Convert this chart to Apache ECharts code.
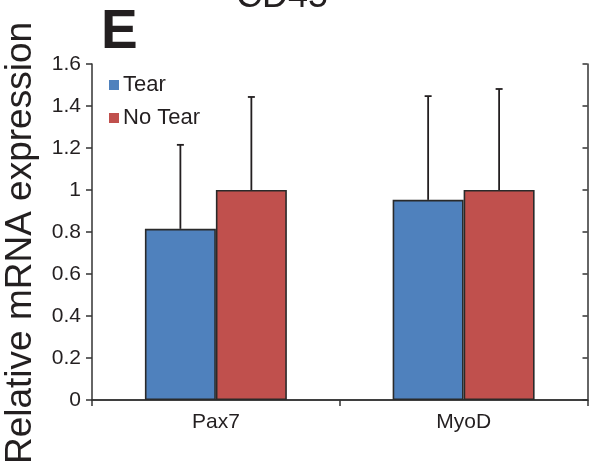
<!DOCTYPE html>
<html>
<head>
<meta charset="utf-8">
<script src="https://cdn.jsdelivr.net/npm/echarts@6/dist/echarts.min.js"></script>
<style>
html,body{margin:0;padding:0;background:#fff;}
#chart{width:589px;height:475px;}
</style>
</head>
<body>
<div id="chart"></div>
<script>
var categories = ['Pax7', 'MyoD'];
var tearMean = [0.815, 0.953];
var tearSD = [0.40, 0.494];
var noTearMean = [1.0, 1.0];
var noTearSD = [0.443, 0.481];
var yTicks = [0, 0.2, 0.4, 0.6, 0.8, 1, 1.2, 1.4, 1.6];

var FONT = '"Liberation Sans", Arial, Helvetica, sans-serif';
var INK = '#231f20';
var BLUE = '#4F81BD';
var RED = '#C0504D';
var CAT_GAP = 0.427;

var chart = echarts.init(document.getElementById('chart'), null, {renderer: 'canvas'});

function errData(mean, sd) {
  return mean.map(function (m, i) { return [i, m, m + sd[i]]; });
}

function errRender(side) {
  return function (params, api) {
    var ci = api.value(0);
    var base = api.coord([ci, api.value(1)]);
    var top = api.coord([ci, api.value(2)]);
    var band = api.size([1, 0])[0];
    var bw = band * (1 - CAT_GAP) / 2;
    var x = base[0] + side * bw / 2;
    var cap = 3.5;
    return {
      type: 'group',
      children: [
        {type: 'line', shape: {x1: x, y1: base[1], x2: x, y2: top[1]}, style: {stroke: INK, lineWidth: 1.8}},
        {type: 'line', shape: {x1: x - cap, y1: top[1], x2: x + cap, y2: top[1]}, style: {stroke: INK, lineWidth: 1.8}}
      ]
    };
  };
}

var yMin = yTicks[0], yMax = yTicks[yTicks.length - 1], yInt = yTicks[1] - yTicks[0];

chart.setOption({
  animation: false,
  backgroundColor: '#fff',
  textStyle: {fontFamily: FONT, color: INK},
  grid: {left: 92, right: 1.5, top: 64, bottom: 75, containLabel: false},
  legend: {
    data: ['Tear', 'No Tear'],
    orient: 'vertical',
    left: 104,
    top: 69,
    itemWidth: 10,
    itemHeight: 10,
    itemGap: 11,
    icon: 'rect',
    itemStyle: {borderWidth: 0},
    textStyle: {fontFamily: FONT, fontSize: 22, color: INK, padding: [0, 0, 0, -1]}
  },
  xAxis: [{
    type: 'category',
    data: categories,
    position: 'bottom',
    boundaryGap: true,
    axisLine: {show: true, lineStyle: {color: '#333', width: 1.5}},
    axisTick: {show: true, alignWithLabel: false, length: 6, lineStyle: {color: '#333', width: 1.5}},
    axisLabel: {fontFamily: FONT, fontSize: 21, color: INK, margin: 12},
    splitLine: {show: false}
  }, {
    type: 'category',
    data: categories,
    position: 'top',
    axisLine: {show: true, lineStyle: {color: '#333', width: 1.5}},
    axisTick: {show: false},
    axisLabel: {show: false}
  }],
  yAxis: [{
    type: 'value',
    min: yMin, max: yMax, interval: yInt,
    position: 'left',
    axisLine: {show: true, lineStyle: {color: '#333', width: 1.5}},
    axisTick: {show: true, length: 6, lineStyle: {color: '#333', width: 1.5}},
    axisLabel: {fontFamily: FONT, fontSize: 21, color: INK, margin: 11},
    splitLine: {show: false}
  }, {
    type: 'value',
    min: yMin, max: yMax, interval: yInt,
    position: 'right',
    axisLine: {show: true, lineStyle: {color: '#333', width: 1.5}},
    axisTick: {show: true, inside: true, length: 5, lineStyle: {color: '#333', width: 1.5}},
    axisLabel: {show: false},
    splitLine: {show: false}
  }],
  series: [{
    name: 'Tear',
    type: 'bar',
    data: tearMean,
    barGap: '0%',
    barCategoryGap: (CAT_GAP * 100) + '%',
    itemStyle: {color: BLUE, borderColor: '#2a2a2a', borderWidth: 1.6},
    z: 2
  }, {
    name: 'No Tear',
    type: 'bar',
    data: noTearMean,
    barGap: '0%',
    barCategoryGap: (CAT_GAP * 100) + '%',
    itemStyle: {color: RED, borderColor: '#2a2a2a', borderWidth: 1.6},
    z: 2
  }, {
    name: 'TearErr',
    type: 'custom',
    data: errData(tearMean, tearSD),
    renderItem: errRender(-1),
    encode: {x: 0, y: [1, 2]},
    z: 3
  }, {
    name: 'NoTearErr',
    type: 'custom',
    data: errData(noTearMean, noTearSD),
    renderItem: errRender(1),
    encode: {x: 0, y: [1, 2]},
    z: 3
  }],
  graphic: [{
    type: 'text',
    x: 21, y: 243,
    rotation: Math.PI / 2,
    style: {text: 'Relative mRNA expression', font: '37px ' + FONT, fill: INK, textAlign: 'center', textVerticalAlign: 'middle'}
  }, {
    type: 'text',
    x: 282, y: -3,
    style: {text: 'CD45', font: '36px ' + FONT, fill: INK, textAlign: 'center', textVerticalAlign: 'middle'}
  }, {
    type: 'text',
    x: 101, y: 33,
    style: {text: 'E', font: 'bold 55px ' + FONT, fill: INK, textAlign: 'left', textVerticalAlign: 'middle'}
  }]
});
</script>
</body>
</html>
